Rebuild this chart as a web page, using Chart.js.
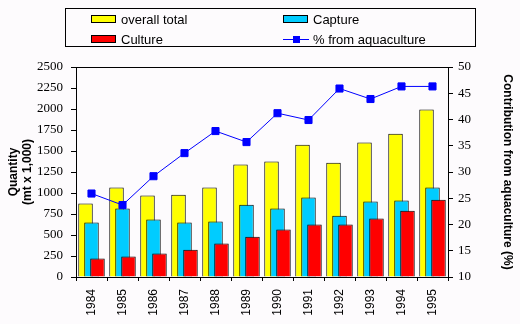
<!DOCTYPE html>
<html>
<head>
<meta charset="utf-8">
<script src="https://cdn.jsdelivr.net/npm/chart.js@4/dist/chart.umd.min.js"></script>
<style>
  body { margin: 0; background: #fdfbfd; }
  #wrap { position: relative; width: 520px; height: 324px; }
  #legend {
    position: absolute; left: 65px; top: 8px; width: 384px; height: 37px;
    border: 1px solid #000; display: grid;
    grid-template-columns: 192px 192px; grid-auto-rows: 20px;
    padding-left: 25px; box-sizing: content-box;
    font: 13px "Liberation Sans", Arial, sans-serif; color: #000;
  }
  #legend .item { display: flex; align-items: center; white-space: nowrap; }
  #legend .sw { width: 25px; height: 8px; border: 1px solid #000; box-sizing: border-box; margin-right: 5px; }
  #legend .ln { position: relative; width: 26px; height: 8px; margin-right: 4px; }
  #legend .ln:before { content: ""; position: absolute; left: 0; right: 0; top: 4px; height: 1px; background: #0000ff; }
  #legend .ln:after { content: ""; position: absolute; left: 10px; top: 1px; width: 7px; height: 7px; background: #0000ff; }
</style>
</head>
<body>
<div id="wrap">
  <canvas id="chart"></canvas>
  <div id="legend"></div>
</div>
<script>
var years = ['1984', '1985', '1986', '1987', '1988', '1989', '1990', '1991', '1992', '1993', '1994', '1995'];
var overallTotal = [875, 1065, 970, 980, 1065, 1340, 1375, 1575, 1360, 1600, 1705, 1995];
var capture = [650, 815, 685, 650, 660, 860, 815, 945, 730, 900, 910, 1065];
var culture = [220, 245, 280, 325, 400, 480, 565, 625, 625, 695, 790, 920];
var pctAquaculture = [25.9, 23.7, 29.2, 33.6, 37.8, 35.7, 41.2, 39.9, 45.9, 43.9, 46.3, 46.3];

// draw datasets first-to-last so the later bars sit on top
var drawInOrder = {
    id: 'drawInOrder',
    beforeDatasetsDraw: function (chart) {
        for (var i = 0; i < chart.data.datasets.length; i++) {
            var meta = chart.getDatasetMeta(i);
            if (meta.visible) meta.controller.draw();
        }
        return false;
    }
};

var tickFont = { family: 'Liberation Serif', size: 13 };
var titleFont = { family: 'Liberation Sans', size: 12, weight: 'bold' };
function plainNumber(value) { return String(value); }  // no thousands comma

var chart = new Chart("chart", {
    type: "bar",
    data: {
        labels: years,
        datasets: [{
            label: "overall total", data: overallTotal,
            backgroundColor: "#ffff00", borderColor: "#000", borderWidth: 1
        }, {
            label: "Capture", data: capture,
            backgroundColor: "#00ccff", borderColor: "#000", borderWidth: 1
        }, {
            label: "Culture", data: culture,
            backgroundColor: "#ff0000", borderColor: "#000", borderWidth: 1
        }, {
            type: "line", label: "% from aquaculture", data: pctAquaculture, yAxisID: "y1",
            borderColor: "#0000ff", backgroundColor: "#0000ff", borderWidth: 1,
            pointStyle: "rect", pointRadius: 5, fill: false, tension: 0
        }]
    },
    options: {
        responsive: true,
        maintainAspectRatio: false,
        animation: false,
        categoryPercentage: 0.58,
        barPercentage: 2.42,
        layout: { padding: { top: 67, left: 0, right: 0, bottom: 0 } },
        plugins: { legend: { display: false }, tooltip: { enabled: false } },
        scales: {
            x: {
                offset: true,
                grid: { offset: true, drawOnChartArea: false, tickLength: 4, color: "#000" },
                border: { color: "#000" },
                ticks: {
                    minRotation: 90, maxRotation: 90, padding: 8, color: "#000",
                    font: { family: 'Liberation Sans', size: 12 }
                },
                afterFit: function (scale) { scale.height = 47; }
            },
            xTop: {
                type: "category", position: "top",
                grid: { display: false },
                border: { color: "#000" },
                ticks: { display: false },
                afterFit: function (scale) { scale.height = 0; }
            },
            y: {
                position: "left", min: 0, max: 2500,
                ticks: { stepSize: 250, padding: 8, color: "#000", font: tickFont, callback: plainNumber },
                grid: { drawOnChartArea: false, tickLength: 5, color: "#000" },
                border: { color: "#000" },
                title: {
                    display: true, text: ["Quantity", "(mt x 1,000)"], color: "#000",
                    font: titleFont, padding: { top: 6, bottom: 0 }
                },
                afterFit: function (scale) { scale.width = 76; }
            },
            y1: {
                position: "right", min: 10, max: 50,
                ticks: { stepSize: 5, padding: 5, color: "#000", font: tickFont, callback: plainNumber },
                grid: { drawOnChartArea: false, tickLength: 5, color: "#000" },
                border: { color: "#000" },
                title: {
                    display: true, text: "Contribution from aquaculture (%)", color: "#000",
                    font: titleFont, padding: { top: 5, bottom: 0 }
                },
                afterFit: function (scale) { scale.width = 72; }
            }
        }
    },
    plugins: [drawInOrder]
});

// legend in a 2 x 2 grid, built from the datasets
var legend = document.getElementById("legend");
chart.data.datasets.forEach(function (ds) {
    var item = document.createElement("div");
    item.className = "item";
    var mark = document.createElement("span");
    if (ds.type === "line") {
        mark.className = "ln";
    } else {
        mark.className = "sw";
        mark.style.background = ds.backgroundColor;
    }
    item.appendChild(mark);
    item.appendChild(document.createTextNode(ds.label));
    legend.appendChild(item);
});
</script>
</body>
</html>
